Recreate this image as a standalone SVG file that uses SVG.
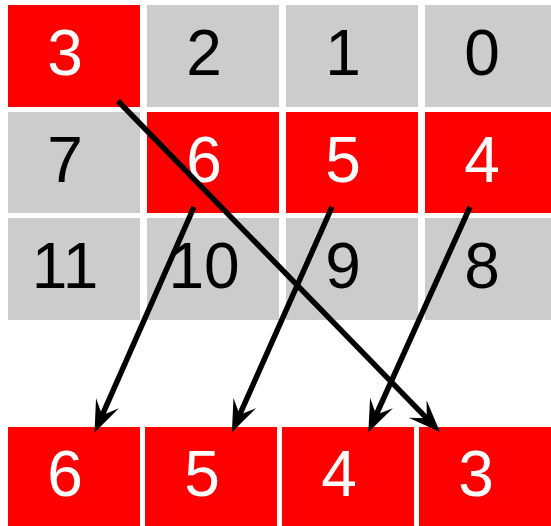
<svg xmlns="http://www.w3.org/2000/svg" width="551" height="526" viewBox="0 0 551 526">
<style>
.red{fill:#FF0000}
.gray{fill:#CCCCCC}
text{font-family:"Liberation Sans",Arial,sans-serif;font-size:64px;text-anchor:middle}
.wt{fill:#FFFFFF}
.bt{fill:#000000}
.conn line{stroke:#000;stroke-width:5.5;fill:none;marker-end:url(#ah)}
</style>
<defs>
<marker id="ah" markerUnits="userSpaceOnUse" viewBox="-33 -14 34 28" markerWidth="34" markerHeight="28" refX="-15" refY="0" orient="auto">
<path d="M0,0 L-32,-12.5 L-19,0 L-32,12.5 Z" fill="#000"/>
</marker>
</defs>
<rect width="551" height="526" fill="#FFFFFF"/>
<g id="n3"><rect class="red" x="8" y="5" width="132" height="102"/><text class="wt" x="65" y="75">3</text></g>
<g id="n2"><rect class="gray" x="147" y="5" width="132" height="102"/><text class="bt" x="204" y="75">2</text></g>
<g id="n1"><rect class="gray" x="286" y="5" width="132" height="102"/><text class="bt" x="343" y="75">1</text></g>
<g id="n0"><rect class="gray" x="425" y="5" width="132" height="102"/><text class="bt" x="482" y="75">0</text></g>
<g id="n7"><rect class="gray" x="8" y="112" width="132" height="101"/><text class="bt" x="65" y="182">7</text></g>
<g id="n6"><rect class="red" x="147" y="112" width="132" height="101"/><text class="wt" x="204" y="182">6</text></g>
<g id="n5"><rect class="red" x="286" y="112" width="132" height="101"/><text class="wt" x="343" y="182">5</text></g>
<g id="n4"><rect class="red" x="425" y="112" width="132" height="101"/><text class="wt" x="482" y="182">4</text></g>
<g id="n11"><rect class="gray" x="8" y="218" width="132" height="102"/><text class="bt" x="65" y="288">11</text></g>
<g id="n10"><rect class="gray" x="147" y="218" width="132" height="102"/><text class="bt" x="204" y="288">10</text></g>
<g id="n9"><rect class="gray" x="286" y="218" width="132" height="102"/><text class="bt" x="343" y="288">9</text></g>
<g id="n8"><rect class="gray" x="425" y="218" width="132" height="102"/><text class="bt" x="482" y="288">8</text></g>
<g id="o6"><rect class="red" x="8" y="427" width="132" height="110"/><text class="wt" x="65" y="496">6</text></g>
<g id="o5"><rect class="red" x="145" y="427" width="132" height="110"/><text class="wt" x="202" y="496">5</text></g>
<g id="o4"><rect class="red" x="282" y="427" width="132" height="110"/><text class="wt" x="339" y="496">4</text></g>
<g id="o3"><rect class="red" x="419" y="427" width="132" height="110"/><text class="wt" x="476" y="496">3</text></g>
<g id="connectors" class="conn">
<line x1="118" y1="101" x2="429.5" y2="421.2"/>
<line x1="194" y1="207" x2="100.6" y2="418.8"/>
<line x1="332" y1="207" x2="238" y2="418.5"/>
<line x1="470" y1="207" x2="374.5" y2="418.5"/>
</g>
</svg>
